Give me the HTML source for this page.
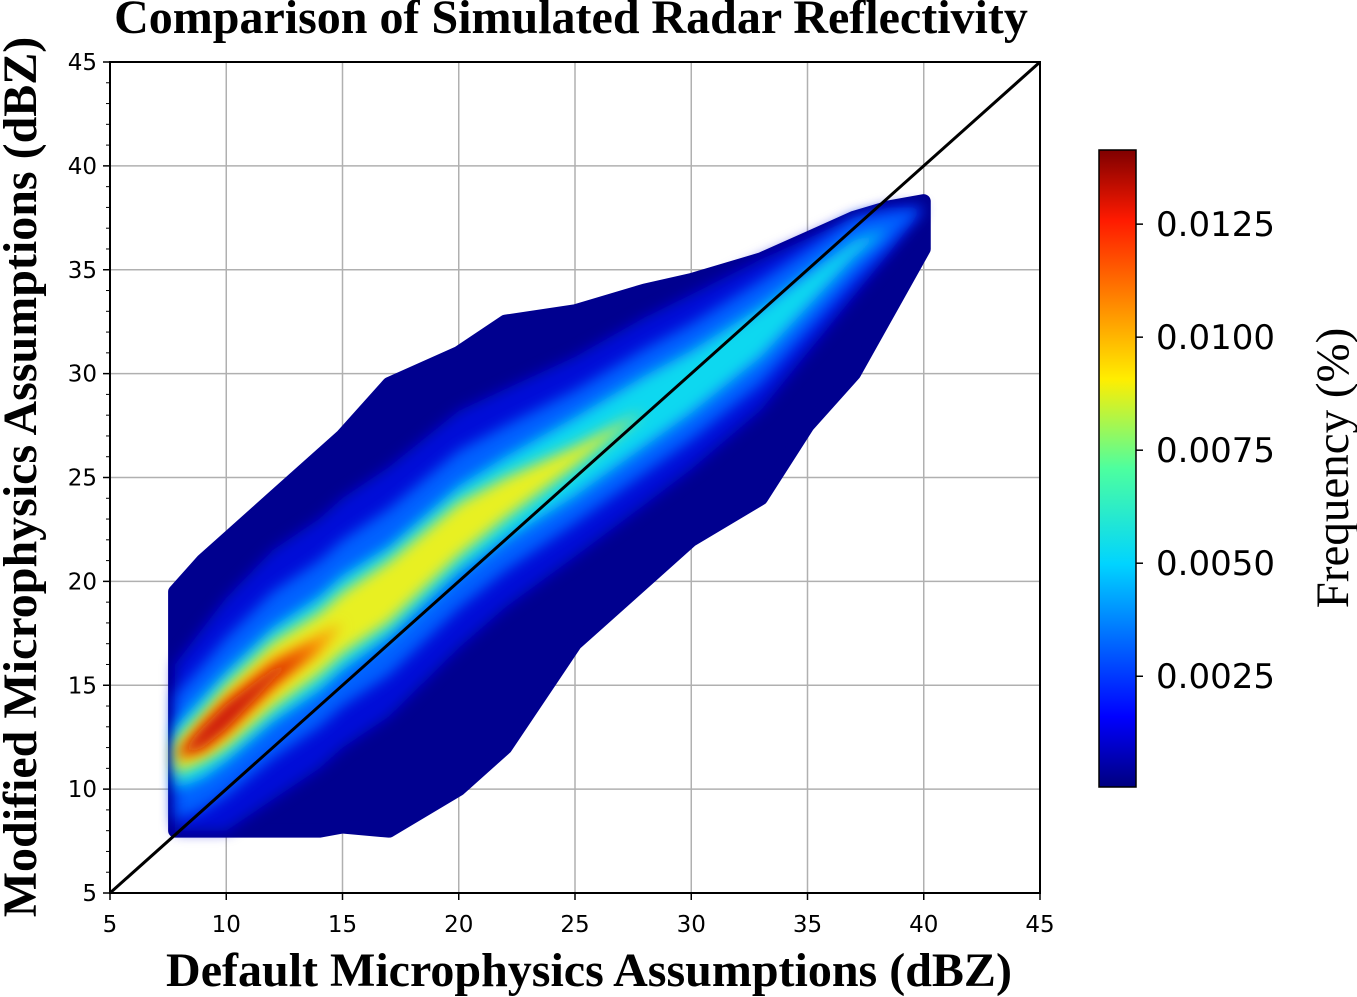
<!DOCTYPE html>
<html><head><meta charset="utf-8">
<style>
body{margin:0;background:#fff;}
svg{display:block;}
.tick{font-family:"DejaVu Sans","Liberation Sans",sans-serif;font-size:23px;fill:#000;}
.cbt{font-family:"DejaVu Sans","Liberation Sans",sans-serif;font-size:34px;fill:#000;}
.ser{font-family:"Liberation Serif",serif;font-weight:bold;fill:#000;}
</style></head>
<body>
<svg id="chart" width="1357" height="997">
<defs>
<filter id="blur" x="-20%" y="-20%" width="140%" height="140%"><feGaussianBlur stdDeviation="7"/></filter>
<linearGradient id="jet" x1="0" y1="1" x2="0" y2="0">
<stop offset="0" stop-color="#00007f"/><stop offset="0.11" stop-color="#0000ff"/>
<stop offset="0.35" stop-color="#00d4ff"/><stop offset="0.5" stop-color="#4dff9f"/>
<stop offset="0.64" stop-color="#ffee00"/><stop offset="0.89" stop-color="#ff1a00"/>
<stop offset="1" stop-color="#7f0000"/></linearGradient>
<clipPath id="plotclip"><rect x="110" y="62" width="930" height="831"/></clipPath>
</defs>
<g id="grid"></g>
<g id="density" clip-path="url(#plotclip)"></g>
<g id="axes"></g>
<text class="ser" x="571" y="33" font-size="48" text-anchor="middle">Comparison of Simulated Radar Reflectivity</text>
<text class="ser" x="589" y="986" font-size="48" text-anchor="middle">Default Microphysics Assumptions (dBZ)</text>
<text class="ser" x="0" y="0" font-size="48" text-anchor="middle" transform="translate(36,477) rotate(-90)">Modified Microphysics Assumptions (dBZ)</text>
<rect x="1099" y="150" width="37" height="637" fill="url(#jet)" stroke="#000" stroke-width="1.5"/>
<g id="cbticks"></g>
<text x="0" y="0" font-family="Liberation Serif, serif" font-size="47" text-anchor="middle" transform="translate(1348,468) rotate(-90)">Frequency (%)</text>
</svg>
<script>
const xTicks=[5,10,15,20,25,30,35,40,45];
const yTicks=[5,10,15,20,25,30,35,40,45];
const cbTicks=[0.0025,0.0050,0.0075,0.0100,0.0125];
const cbLabels=["0.0025","0.0050","0.0075","0.0100","0.0125"];
const xs=[7.8,9,10,12,14,15,17,20,22,25,28,30,33,35,37,38.5,40];
const upper=[19.5,21,22,24,26,27,29.5,31,32.5,33,34,34.5,35.5,36.5,37.5,38,38.3];
const lower=[8,8,8,8,8,8.2,8,10,12,17,20,22,24,27.5,30,33,36];
const ridge=[11.5,12.5,13.5,15.5,17,18,19.5,22.5,24,26,28.2,29.6,32,34,36,37,38];
const halfBlue=[3,3.5,3.8,4,4,4,4,3.8,3.5,3.2,3,2.8,2.5,2,1.5,0.8,0];
const halfCyan=[1.5,2,2.2,2.3,2.3,2.3,2.2,2.1,2,1.9,1.7,1.5,1.2,0.8,0.4,0,0];
const halfYellow=[0.8,1.2,1.5,1.6,1.5,1.5,1.5,1.3,1,0.5,0,0,0,0,0,0,0];
const halfOrange=[0,0.7,0.9,0.8,0.4,0,0,0,0,0,0,0,0,0,0,0,0];
const halfRed=[0,0.5,0.6,0.3,0,0,0,0,0,0,0,0,0,0,0,0,0];
const NS="http://www.w3.org/2000/svg";
const X=v=>110+(v-5)*930/40;
const Y=v=>893-(v-5)*831/40;
const CB=v=>787-(v-0.00005)*(637/(0.01414-0.00005));
function mk(tag,attrs,parent){const e=document.createElementNS(NS,tag);for(const k in attrs)e.setAttribute(k,attrs[k]);parent.appendChild(e);return e;}
const grid=document.getElementById('grid'),axes=document.getElementById('axes'),dens=document.getElementById('density');
xTicks.forEach(t=>{
  const l=mk('line',{x1:X(t),x2:X(t),y1:62,y2:893,stroke:'#b0b0b0','stroke-width':1.5},grid);
  
  
  const tk=mk('line',{x1:X(t),x2:X(t),y1:893,y2:900,stroke:'#000','stroke-width':1.5},axes);
  
  
  const tx=mk('text',{x:X(t),y:932,'text-anchor':'middle',class:'tick'},axes);tx.textContent=t;
  
  
});
yTicks.forEach(t=>{
  const l=mk('line',{x1:110,x2:1040,y1:Y(t),y2:Y(t),stroke:'#b0b0b0','stroke-width':1.5},grid);
  
  
  const tk=mk('line',{x1:103,x2:110,y1:Y(t),y2:Y(t),stroke:'#000','stroke-width':1.5},axes);
  
  
  const tx=mk('text',{x:97,y:Y(t)+8,'text-anchor':'end',class:'tick'},axes);tx.textContent=t;
  
  
});
for(let v=5;v<45;v+=1){if(v%5===0)continue;
  const m=mk('line',{x1:106,x2:110,y1:Y(v),y2:Y(v),stroke:'#000','stroke-width':1},axes);
  
  }
function band(lo,hi,color,blur,name){
  let pts=[];
  for(let i=0;i<xs.length;i++)pts.push(X(xs[i])+','+Y(hi[i]));
  for(let i=xs.length-1;i>=0;i--)pts.push(X(xs[i])+','+Y(lo[i]));
  const p=mk('polygon',{points:pts.join(' '),fill:color,stroke:color,'stroke-width':blur?0:14,'stroke-linejoin':'round'},dens);
  if(blur)p.setAttribute('filter','url(#blur)');
  
  
}
band(lower,upper,'#00008f',false,'density-outer');
const lev=(h,s)=>ridge.map((r,i)=>r+s*h[i]);
const clampLo=(a)=>a.map((v,i)=>Math.max(v,lower[i]));
const clampHi=(a)=>a.map((v,i)=>Math.min(v,upper[i]));
band(clampLo(lev(halfBlue,-1.5)),clampHi(lev(halfBlue,1.5)),'#0010d8',true,'density-level-1');
band(clampLo(lev(halfBlue,-1)),clampHi(lev(halfBlue,1)),'#0060ff',true,'density-level-2');
band(lev(halfCyan,-1),lev(halfCyan,1),'#10d8f0',true,'density-level-3');
band(lev(halfYellow,-1),lev(halfYellow,1),'#e8f020',true,'density-level-4');
band(lev(halfOrange,-1),lev(halfOrange,1),'#ff8a00',true,'density-level-5');
band(lev(halfRed,-1),lev(halfRed,1),'#c80808',true,'density-level-6');
const d=mk('line',{x1:X(5),y1:Y(5),x2:X(45),y2:Y(45),stroke:'#000','stroke-width':3},axes);


const fr=mk('rect',{x:110,y:62,width:930,height:831,fill:'none',stroke:'#000','stroke-width':2},axes);


const cbg=document.getElementById('cbticks');
cbTicks.forEach((t,i)=>{
  const tk=mk('line',{x1:1136,x2:1143,y1:CB(t),y2:CB(t),stroke:'#000','stroke-width':1.5},cbg);
  
  
  const tx=mk('text',{x:1156,y:CB(t)+12,class:'cbt'},cbg);tx.textContent=cbLabels[i];
  
  
});
</script>
</body></html>
